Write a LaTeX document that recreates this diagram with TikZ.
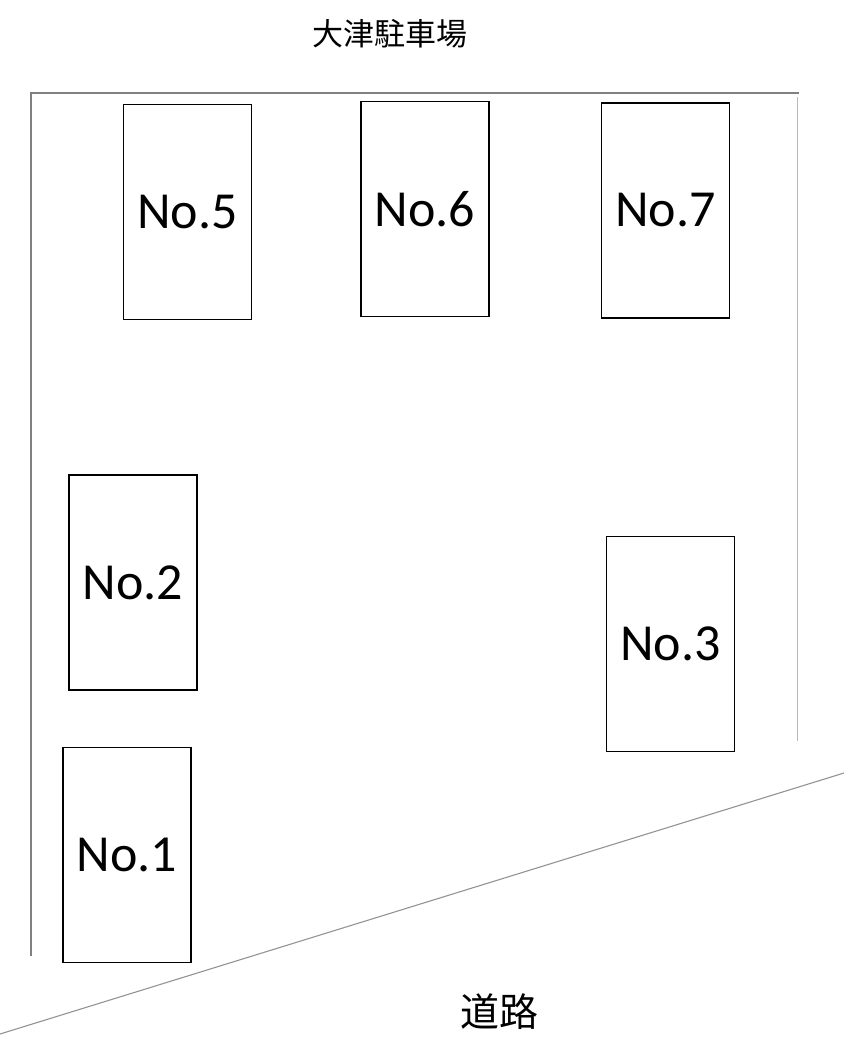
\documentclass[tikz,border=0pt]{standalone}
\usepackage{fontspec}
\setmainfont{Carlito}
\newfontfamily\jpfont{Noto Sans CJK JP}
\usepackage{tikz}

\begin{document}
\begin{tikzpicture}[x=1pt, y=-1pt,
  lot/.style={draw, line width=1.2pt, minimum width=128pt, minimum height=215pt, inner sep=0pt, font=\fontsize{52}{60}\selectfont},
  edge/.style={line width=1.1pt, draw=gray},
  title/.style={font=\jpfont\fontsize{31}{36}\selectfont, inner sep=0pt}
]
\useasboundingbox (0,0) rectangle (844,1045);

% site boundary
\coordinate (tl) at (31,93);
\coordinate (tr) at (799,93);
\coordinate (bl) at (31,956);
\coordinate (rtop) at (797.5,97);
\coordinate (rbot) at (797.5,741);
\coordinate (roadw) at (0,1034);
\coordinate (roade) at (844,773);
\draw[edge] (bl) -- (tl) -- (tr);
\draw[edge, draw=gray!55] (rtop) -- (rbot);
\draw[edge, draw=gray!85] (roadw) -- (roade);

% parking spaces
\node[lot] (no5) at (187.5,212) {No.5};
\node[lot] (no6) at (425,209) {No.6};
\node[lot] (no7) at (665.5,210.5) {No.7};
\node[lot] (no2) at (133,582.5) {No.2};
\node[lot] (no3) at (670.5,644) {No.3};
\node[lot] (no1) at (127,855) {No.1};

% labels
\node[title] (lotname) at (390,34) {大津駐車場};
\node[title, font=\jpfont\fontsize{39}{44}\selectfont] (road) at (499,1012) {道路};
\end{tikzpicture}
\end{document}
